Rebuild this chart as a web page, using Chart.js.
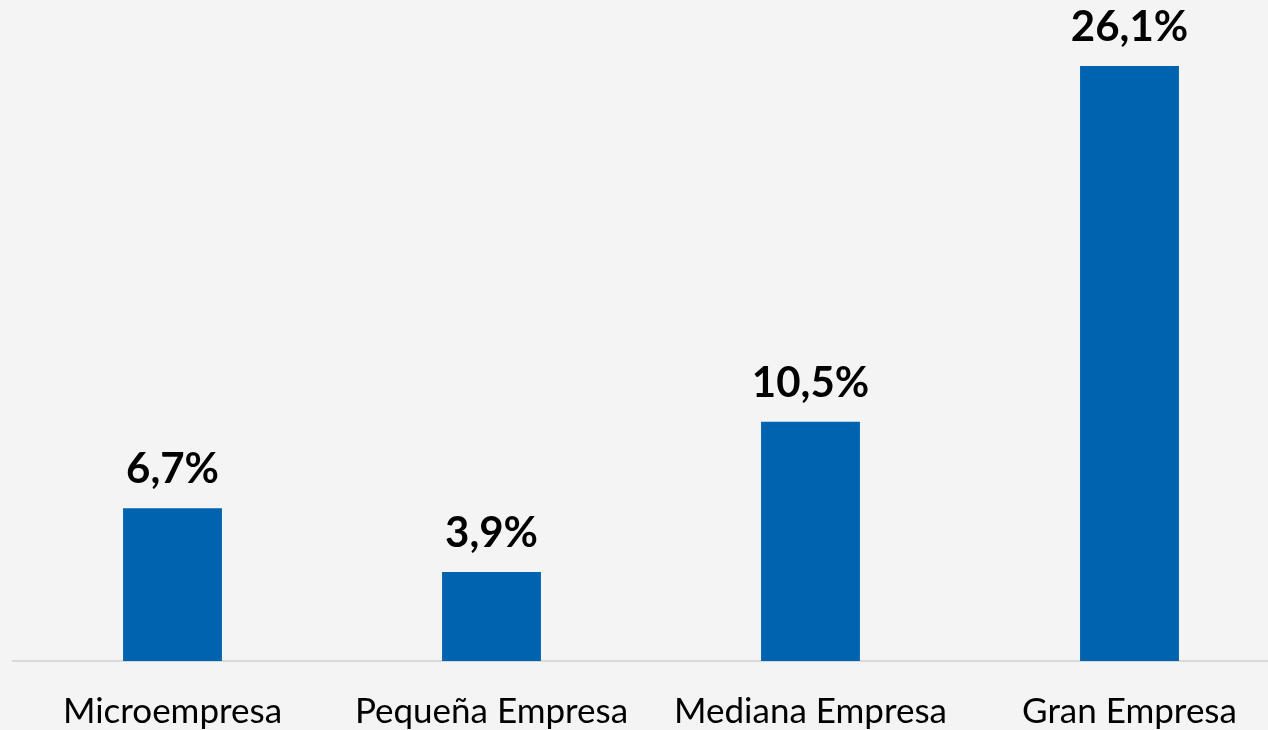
<!DOCTYPE html>
<html>
<head>
<meta charset="utf-8">
<script src="https://cdn.jsdelivr.net/npm/chart.js@4/dist/chart.umd.min.js"></script>
<style>
  html, body { margin: 0; padding: 0; background: #f4f4f4; overflow: hidden; }
  #wrap { width: 1289px; height: 730px; }
</style>
</head>
<body>
<div id="wrap"><canvas id="barChart" width="1289" height="730"></canvas></div>
<script>
const CATEGORIES = ['Microempresa', 'Pequeña Empresa', 'Mediana Empresa', 'Gran Empresa'];
const VALUES = [6.7, 3.9, 10.5, 26.1];
const BAR_COLOR = '#0063AF';
const FONT = 'Lato, "Open Sans", sans-serif';

const fmtPct = v => v.toFixed(1).replace('.', ',') + '%';

// draws the value on top of each bar
const valueLabels = {
  id: 'valueLabels',
  afterDatasetsDraw(chart) {
    const ctx = chart.ctx;
    const meta = chart.getDatasetMeta(0);
    ctx.save();
    ctx.font = 'bold 42px ' + FONT;
    ctx.fillStyle = '#000';
    ctx.textAlign = 'center';
    ctx.textBaseline = 'alphabetic';
    meta.data.forEach((bar, i) => {
      ctx.fillText(fmtPct(VALUES[i]), bar.x, bar.y - 25);
    });
    ctx.restore();
  }
};

new Chart(document.getElementById('barChart'), {
  type: 'bar',
  data: {
    labels: CATEGORIES,
    datasets: [{
      data: VALUES,
      backgroundColor: BAR_COLOR,
      borderWidth: 0,
      categoryPercentage: 1,
      barPercentage: 0.31,
    }],
  },
  options: {
    responsive: false,
    animation: false,
    layout: { padding: { left: 13, right: 0, top: 0, bottom: 0 } },
    plugins: { legend: { display: false }, tooltip: { enabled: false } },
    scales: {
      x: {
        grid: { display: false, drawTicks: false },
        border: { color: '#d9d9d9', width: 2 },
        ticks: { color: '#000', padding: 30, font: { family: FONT, size: 35 }, maxRotation: 0, autoSkip: false },
        afterFit: s => { s.height = 69; },
      },
      y: { display: false, min: 0, max: 29 },
    },
  },
  plugins: [valueLabels],
});
</script>
</body>
</html>
